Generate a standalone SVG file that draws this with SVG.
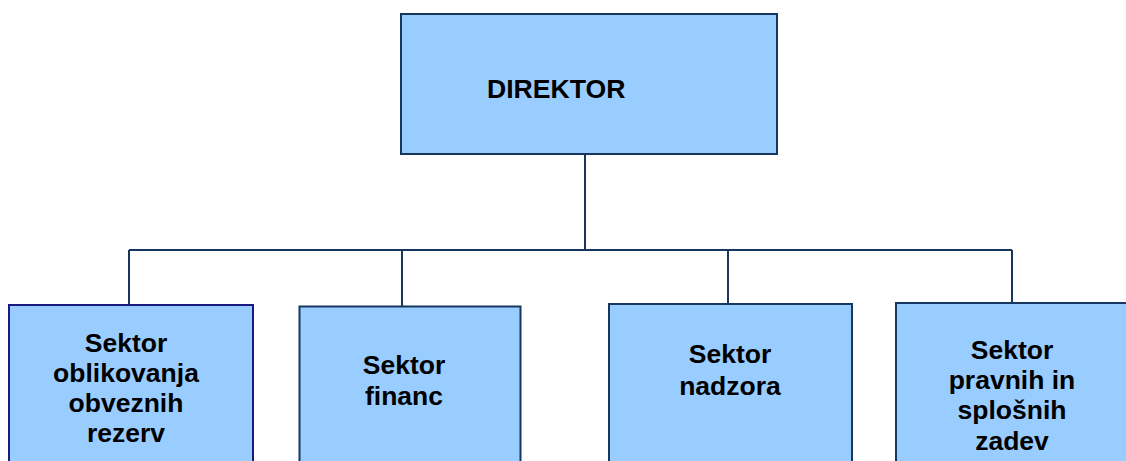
<svg xmlns="http://www.w3.org/2000/svg" width="1126" height="461" viewBox="0 0 1126 461">
  <style>
    .box { fill: #99CCFF; stroke: #17375E; stroke-width: 2; }
    .box-alt { stroke: #1A1A80; }
    .label { font-family: "Liberation Sans", Arial, sans-serif; font-weight: bold; font-size: 26.5px; fill: #000; text-anchor: middle; }
    .title { font-size: 26.6px; text-anchor: start; }
    .wire { fill: none; stroke: #17375E; stroke-width: 2; }
  </style>

  <g id="connectors">
    <path class="wire" d="M585 154 V250"/>
    <path class="wire" d="M129 250 H1012"/>
    <path class="wire" d="M129 250 V305"/>
    <path class="wire" d="M402 250 V306"/>
    <path class="wire" d="M728 250 V304"/>
    <path class="wire" d="M1012 250 V303"/>
  </g>

  <g id="direktor">
    <rect class="box" x="401" y="14" width="376" height="140"/>
    <text class="label title" x="487" y="98">DIREKTOR</text>
  </g>

  <g id="sektor-obvezne-rezerve">
    <rect class="box box-alt" x="9" y="305" width="244" height="170"/>
    <text class="label" x="126" y="352">Sektor</text>
    <text class="label" x="126" y="382">oblikovanja</text>
    <text class="label" x="126" y="412">obveznih</text>
    <text class="label" x="126" y="442">rezerv</text>
  </g>

  <g id="sektor-financ">
    <rect class="box" x="299.5" y="306.5" width="221" height="170"/>
    <text class="label" x="404" y="374">Sektor</text>
    <text class="label" x="404" y="405">financ</text>
  </g>

  <g id="sektor-nadzora">
    <rect class="box" x="609" y="304" width="243" height="170"/>
    <text class="label" x="730" y="363">Sektor</text>
    <text class="label" x="730" y="395">nadzora</text>
  </g>

  <g id="sektor-pravne-zadeve">
    <rect class="box" x="896" y="303" width="240" height="170"/>
    <text class="label" x="1012" y="359">Sektor</text>
    <text class="label" x="1012" y="389">pravnih in</text>
    <text class="label" x="1012" y="419">splošnih</text>
    <text class="label" x="1012" y="450">zadev</text>
  </g>
</svg>
